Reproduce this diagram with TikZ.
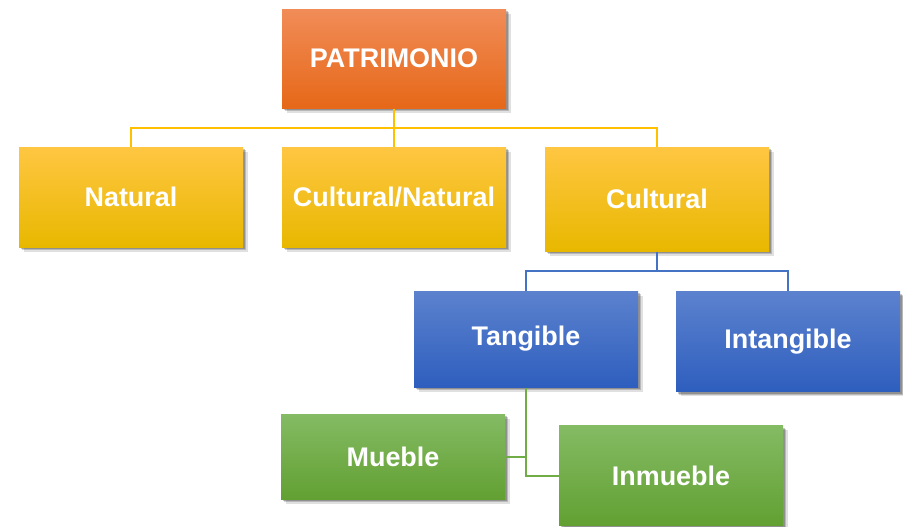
\documentclass[tikz,border=0pt]{standalone}
\usepackage{fontspec}
\setmainfont{Liberation Sans}
\usetikzlibrary{shadows}

\tikzset{every picture/.style={line width=0.75pt}}
\tikzset{
  orgbox/.style={draw=none, minimum width=168pt, text=white, align=center,
    font=\fontsize{20.2}{24}\selectfont\bfseries, inner sep=0.75pt, shading=axis,
    drop shadow={shadow xshift=3.5pt, shadow yshift=-3.5pt, opacity=0.12, fill=black},
    drop shadow={shadow xshift=2.5pt, shadow yshift=-2.5pt, opacity=0.18, fill=black},
    drop shadow={shadow xshift=1.5pt, shadow yshift=-1.5pt, opacity=0.22, fill=black}},
  orangebox/.style={orgbox, top color={rgb, 255:red, 241; green, 140; blue, 88}, bottom color={rgb, 255:red, 230; green, 104; blue, 24}},
  yellowbox/.style={orgbox, top color={rgb, 255:red, 255; green, 198; blue, 66}, middle color={rgb, 255:red, 255; green, 192; blue, 0}, bottom color={rgb, 255:red, 232; green, 184; blue, 0}},
  bluebox/.style={orgbox, top color={rgb, 255:red, 92; green, 130; blue, 206}, bottom color={rgb, 255:red, 46; green, 94; blue, 190}},
  greenbox/.style={orgbox, top color={rgb, 255:red, 132; green, 187; blue, 100}, bottom color={rgb, 255:red, 98; green, 160; blue, 50}},
  yellowline/.style={draw={rgb, 255:red, 255; green, 192; blue, 0}, line width=1.5pt},
  blueline/.style={draw={rgb, 255:red, 68; green, 114; blue, 196}, line width=1.5pt},
  greenline/.style={draw={rgb, 255:red, 112; green, 173; blue, 71}, line width=1.5pt}
}

\begin{document}
\begin{tikzpicture}[x=0.75pt,y=0.75pt,yscale=-1,xscale=1]
\useasboundingbox (0,0) rectangle (903,526);

%Shape: Rectangle [PATRIMONIO]
\node [orangebox, minimum height=74.25pt] (patr) at (394,58.5) {PATRIMONIO};
%Shape: Rectangle [Natural]
\node [yellowbox, minimum height=75pt] (nat) at (131,197) {Natural};
%Shape: Rectangle [Cultural/Natural]
\node [yellowbox, minimum height=75pt] (culnat) at (394,197) {Cultural/Natural};
%Shape: Rectangle [Cultural]
\node [yellowbox, minimum height=78pt] (cult) at (657,199) {Cultural};
%Shape: Rectangle [Tangible]
\node [bluebox, minimum height=72pt] (tang) at (526,339) {Tangible};
%Shape: Rectangle [Intangible]
\node [bluebox, minimum height=75pt] (intang) at (788,341.5) {Intangible};
%Shape: Rectangle [Mueble]
\node [greenbox, minimum height=63.75pt] (mueb) at (393,456.5) {Mueble};
%Shape: Rectangle [Inmueble]
\node [greenbox, minimum height=75pt] (inmueb) at (671,475.5) {Inmueble};

%Straight Lines
\draw [yellowline] (patr.south) -- ++(0,19) -| (nat.north);
\draw [yellowline] (patr.south) -- (culnat.north);
\draw [yellowline] (patr.south) -- ++(0,19) -| (cult.north);
%Straight Lines
\draw [blueline] (cult.south) -- ++(0,19) -| (tang.north);
\draw [blueline] (cult.south) -- ++(0,19) -| (intang.north);
%Straight Lines
\draw [greenline] (tang.south) |- (inmueb.west);
\draw [greenline] (mueb.east) -- (mueb.east -| tang.south);

\end{tikzpicture}
\end{document}
